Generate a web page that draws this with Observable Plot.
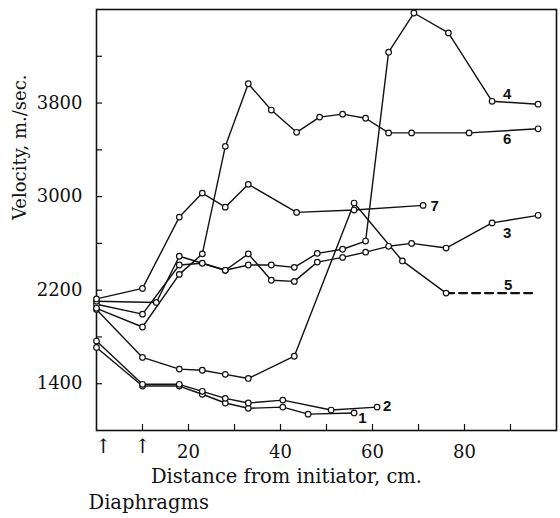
<!DOCTYPE html>
<html><head><meta charset="utf-8">
<script src="https://cdn.jsdelivr.net/npm/d3@7"></script>
<script src="https://cdn.jsdelivr.net/npm/@observablehq/plot@0.6"></script>
<style>body{margin:0;background:#fff} svg{display:block} svg text{font-family:'DejaVu Serif', serif}
svg g.slabel text{font-family:'Liberation Sans', Arial, sans-serif}</style>
</head><body><div id="chart"></div>
<script>
// Series data (distance cm, velocity m/sec)
const s1x = [0, 10, 18, 23, 28, 33, 40.5, 46, 56];
const s1y = [1710, 1380, 1380, 1310, 1235, 1190, 1200, 1140, 1150];
const s2x = [0, 10, 18, 23, 28, 33, 40.5, 51, 61];
const s2y = [1765, 1395, 1395, 1335, 1275, 1235, 1260, 1175, 1200];
const s3x = [0, 10, 18, 23, 28, 33, 38, 43, 48, 53.5, 58.5, 63.5, 68.5, 76, 86, 96];
const s3y = [2080, 1995, 2415, 2430, 2370, 2510, 2285, 2275, 2440, 2480, 2525, 2575, 2600, 2560, 2775, 2840];
const s4x = [0, 13, 18, 28, 33, 38, 43, 48, 53.5, 58.5, 63.5, 69, 76.5, 86, 96];
const s4y = [2105, 2095, 2490, 2370, 2415, 2415, 2395, 2515, 2550, 2620, 4235, 4570, 4400, 3815, 3790];
const s5x = [0, 10, 18, 23, 28, 33, 43, 56, 66.5, 76];
const s5y = [2035, 1625, 1525, 1515, 1480, 1445, 1635, 2945, 2450, 2175];
const s6x = [0, 10, 18, 23, 28, 33, 38, 43.5, 48.5, 53.5, 58.5, 63.5, 68.5, 81, 96];
const s6y = [2045, 1885, 2335, 2510, 3430, 3965, 3740, 3550, 3680, 3705, 3670, 3545, 3545, 3545, 3580];
const s7x = [0, 10, 18, 23, 28, 33, 43.5, 56, 71];
const s7y = [2125, 2215, 2825, 3030, 2910, 3105, 2865, 2885, 2925];
const s5dashX = [76, 95];
const s5dashY = [2175, 2175];

const seriesNames = ["1", "2", "3", "4", "5", "6", "7"];
const labelX = [57.8, 63.2, 89.3, 89.3, 89.5, 89.3, 73.5];
const labelY = [1105, 1210, 2690, 3880, 2245, 3490, 2915];

const yMajor = [1400, 2200, 3000, 3800];
const yTicksAll = [1400, 1800, 2200, 2600, 3000, 3400, 3800, 4200];
const xLabels = [20, 40, 60, 80];
const xTicksAll = [10, 20, 30, 40, 50, 60, 70, 80, 90];
const diaphragmX = [1.5, 10];

const xTitle = "Distance from initiator, cm.";
const yTitle = "Velocity, m./sec.";
const footNote = "Diaphragms";

// build table
const allX = [s1x, s2x, s3x, s4x, s5x, s6x, s7x];
const allY = [s1y, s2y, s3y, s4y, s5y, s6y, s7y];
const rows = [];
seriesNames.forEach((s, i) => allX[i].forEach((x, j) => rows.push({s, x, y: allY[i][j]})));
const dashRows = s5dashX.map((x, i) => ({x, y: s5dashY[i]}));
const labelRows = seriesNames.map((s, i) => ({s, x: labelX[i], y: labelY[i]}));

const W = 560, H = 518, mL = 96, mR = 4, mT = 9, mB = 88;
const fw = W - mL - mR, fh = H - mT - mB;
const ink = "#111";
const serif = "'DejaVu Serif', serif";

const chart = Plot.plot({
  width: W, height: H,
  marginLeft: mL, marginRight: mR, marginTop: mT, marginBottom: mB,
  style: {fontFamily: serif, fontSize: "18px", color: ink, background: "white"},
  x: {domain: [0, 100]},
  y: {domain: [1000, 4600]},
  marks: [
    Plot.frame({stroke: ink, strokeWidth: 1.6}),
    Plot.tickY(yTicksAll, {y: d => d, insetRight: fw - 6, stroke: ink, strokeWidth: 1.2}),
    Plot.tickX(xTicksAll, {x: d => d, insetTop: fh - 6, stroke: ink, strokeWidth: 1.2}),
    Plot.axisY(yMajor, {tickSize: 0, tickPadding: 14, label: null, tickFormat: d => String(d), fontSize: 18, fontFamily: serif}),
    Plot.axisX(xLabels, {tickSize: 0, tickPadding: 15, label: null, tickFormat: d => String(d), fontSize: 18, fontFamily: serif}),
    Plot.line(rows, {x: "x", y: "y", z: "s", stroke: ink, strokeWidth: 1.4}),
    Plot.line(dashRows, {x: "x", y: "y", stroke: ink, strokeWidth: 2.2, strokeDasharray: "8,5"}),
    Plot.dot(rows, {x: "x", y: "y", r: 2.8, fill: "white", stroke: ink, strokeWidth: 1.2}),
    Plot.text(labelRows, {x: "x", y: "y", text: "s", className: "slabel", fontWeight: "bold", fontSize: 15, fill: ink}),
    Plot.text(diaphragmX, {x: d => d, text: () => "↑", frameAnchor: "bottom", dy: 22, fontSize: 20, fill: ink}),
    Plot.text([xTitle], {text: d => d, frameAnchor: "bottom", dx: -40, dy: 52, fontSize: 19.5, fill: ink}),
    Plot.text([yTitle], {text: d => d, frameAnchor: "left", rotate: -90, dx: -76, fontSize: 18, fill: ink}),
    Plot.text([footNote], {text: d => d, frameAnchor: "bottom-left", textAnchor: "start", dx: -8, dy: 78, fontSize: 19.5, fill: ink})
  ]
});
document.getElementById("chart").append(chart);
</script>
</body></html>
